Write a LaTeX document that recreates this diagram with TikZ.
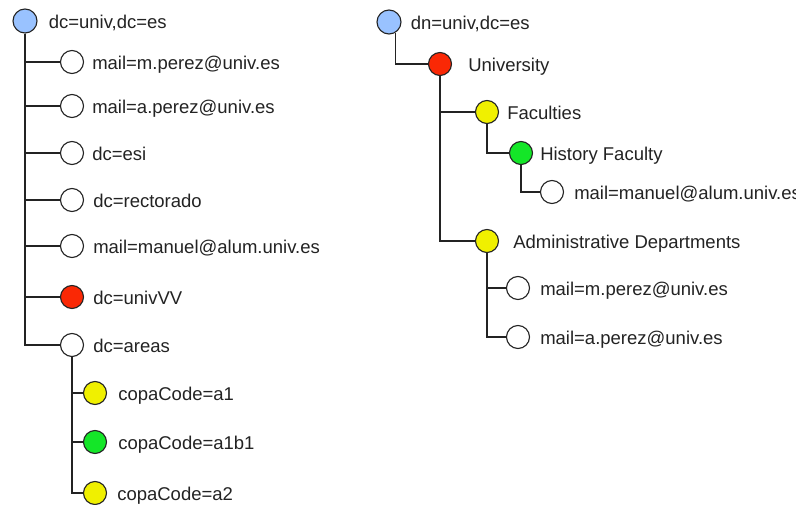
\documentclass[tikz,border=0pt]{standalone}
\usepackage{fontspec}
\setmainfont{Liberation Sans}
\usepackage{xcolor}
\usetikzlibrary{positioning}

\definecolor{rootblue}{RGB}{153,194,255}
\definecolor{entryred}{RGB}{250,40,5}
\definecolor{entryyellow}{RGB}{240,240,0}
\definecolor{entrygreen}{RGB}{20,230,40}
\definecolor{inkgray}{RGB}{35,35,35}

\tikzset{
  entry/.style={circle, draw=inkgray, line width=1.1pt, fill=white, minimum size=23pt, inner sep=0pt},
  rootentry/.style={entry, fill=rootblue, minimum size=24pt},
  lbl/.style={inner sep=0pt, text=inkgray, text height=13.2pt, text depth=0pt,
    font=\fontsize{18.5}{21}\selectfont},
  branch/.style={draw=inkgray, line width=1.3pt}
}

\begin{document}
\begin{tikzpicture}[x=1pt, y=-1pt]
    \useasboundingbox[fill=white] (0,0) rectangle (796,505);

    % Left tree: flat directory
    \node[rootentry] (lroot) at (25,21) {};
    \node[entry] (lmperez) at (72,62) {};
    \node[entry] (laperez) at (72,106) {};
    \node[entry] (lesi) at (72,153) {};
    \node[entry] (lrect) at (72,200) {};
    \node[entry] (lmanuel) at (72,246) {};
    \node[entry, fill=entryred] (lunivvv) at (72,297) {};
    \node[entry] (lareas) at (72,345) {};
    \node[entry, fill=entryyellow] (la1) at (95,393) {};
    \node[entry, fill=entrygreen] (la1b1) at (95,442) {};
    \node[entry, fill=entryyellow] (la2) at (95,493) {};

    \node[lbl, right=11pt of lroot, yshift=-1pt] (lrootlbl) {dc=univ,dc=es};
    \node[lbl, right=8pt of lmperez, yshift=-1pt] (lmperezlbl) {mail=m.perez@univ.es};
    \node[lbl, right=8pt of laperez, yshift=-1pt] (laperezlbl) {mail=a.perez@univ.es};
    \node[lbl, right=8pt of lesi, yshift=-1pt] (lesilbl) {dc=esi};
    \node[lbl, right=9pt of lrect, yshift=-1pt] (lrectlbl) {dc=rectorado};
    \node[lbl, right=9pt of lmanuel, yshift=-1pt] (lmanuellbl) {mail=manuel@alum.univ.es};
    \node[lbl, right=9pt of lunivvv, yshift=-1pt] (lunivvvlbl) {dc=univVV};
    \node[lbl, right=9pt of lareas, yshift=-1pt] (lareaslbl) {dc=areas};
    \node[lbl, right=11pt of la1, yshift=-1pt] (la1lbl) {copaCode=a1};
    \node[lbl, right=11pt of la1b1, yshift=-1pt] (la1b1lbl) {copaCode=a1b1};
    \node[lbl, right=10pt of la2, yshift=-1pt] (la2lbl) {copaCode=a2};

    % Left tree branches
    \draw[branch] (lroot.south) |- (lmperez.west);
    \draw[branch] (lroot.south) |- (laperez.west);
    \draw[branch] (lroot.south) |- (lesi.west);
    \draw[branch] (lroot.south) |- (lrect.west);
    \draw[branch] (lroot.south) |- (lmanuel.west);
    \draw[branch] (lroot.south) |- (lunivvv.west);
    \draw[branch] (lroot.south) |- (lareas.west);
    \draw[branch] (lareas.south) |- (la1.west);
    \draw[branch] (lareas.south) |- (la1b1.west);
    \draw[branch] (lareas.south) |- (la2.west);

    % Right tree: organised directory
    \node[rootentry] (rroot) at (389,22) {};
    \node[entry, fill=entryred] (runiv) at (440,64) {};
    \node[entry, fill=entryyellow] (rfac) at (487,112) {};
    \node[entry, fill=entrygreen] (rhist) at (521,153) {};
    \node[entry] (rmanuel) at (552,192) {};
    \node[entry, fill=entryyellow] (radmin) at (487,241) {};
    \node[entry] (rmperez) at (518,288) {};
    \node[entry] (raperez) at (518,337) {};

    \node[lbl, right=9pt of rroot, yshift=-1pt] (rrootlbl) {dn=univ,dc=es};
    \node[lbl, right=16pt of runiv, yshift=-1pt] (runivlbl) {University};
    \node[lbl, right=8pt of rfac, yshift=-1pt] (rfaclbl) {Faculties};
    \node[lbl, right=7pt of rhist, yshift=-1pt] (rhistlbl) {History Faculty};
    \node[lbl, right=10pt of rmanuel, yshift=-1pt] (rmanuellbl) {mail=manuel@alum.univ.es};
    \node[lbl, right=14pt of radmin, yshift=-1pt] (radminlbl) {Administrative Departments};
    \node[lbl, right=10pt of rmperez, yshift=-1pt] (rmperezlbl) {mail=m.perez@univ.es};
    \node[lbl, right=10pt of raperez, yshift=-1pt] (raperezlbl) {mail=a.perez@univ.es};

    % Right tree branches
    \draw[branch] (rroot.-60) |- (runiv.west);
    \draw[branch] (runiv.south) |- (rfac.west);
    \draw[branch] (runiv.south) |- (radmin.west);
    \draw[branch] (rfac.south) |- (rhist.west);
    \draw[branch] (rhist.south) |- (rmanuel.west);
    \draw[branch] (radmin.south) |- (rmperez.west);
    \draw[branch] (radmin.south) |- (raperez.west);
\end{tikzpicture}
\end{document}
